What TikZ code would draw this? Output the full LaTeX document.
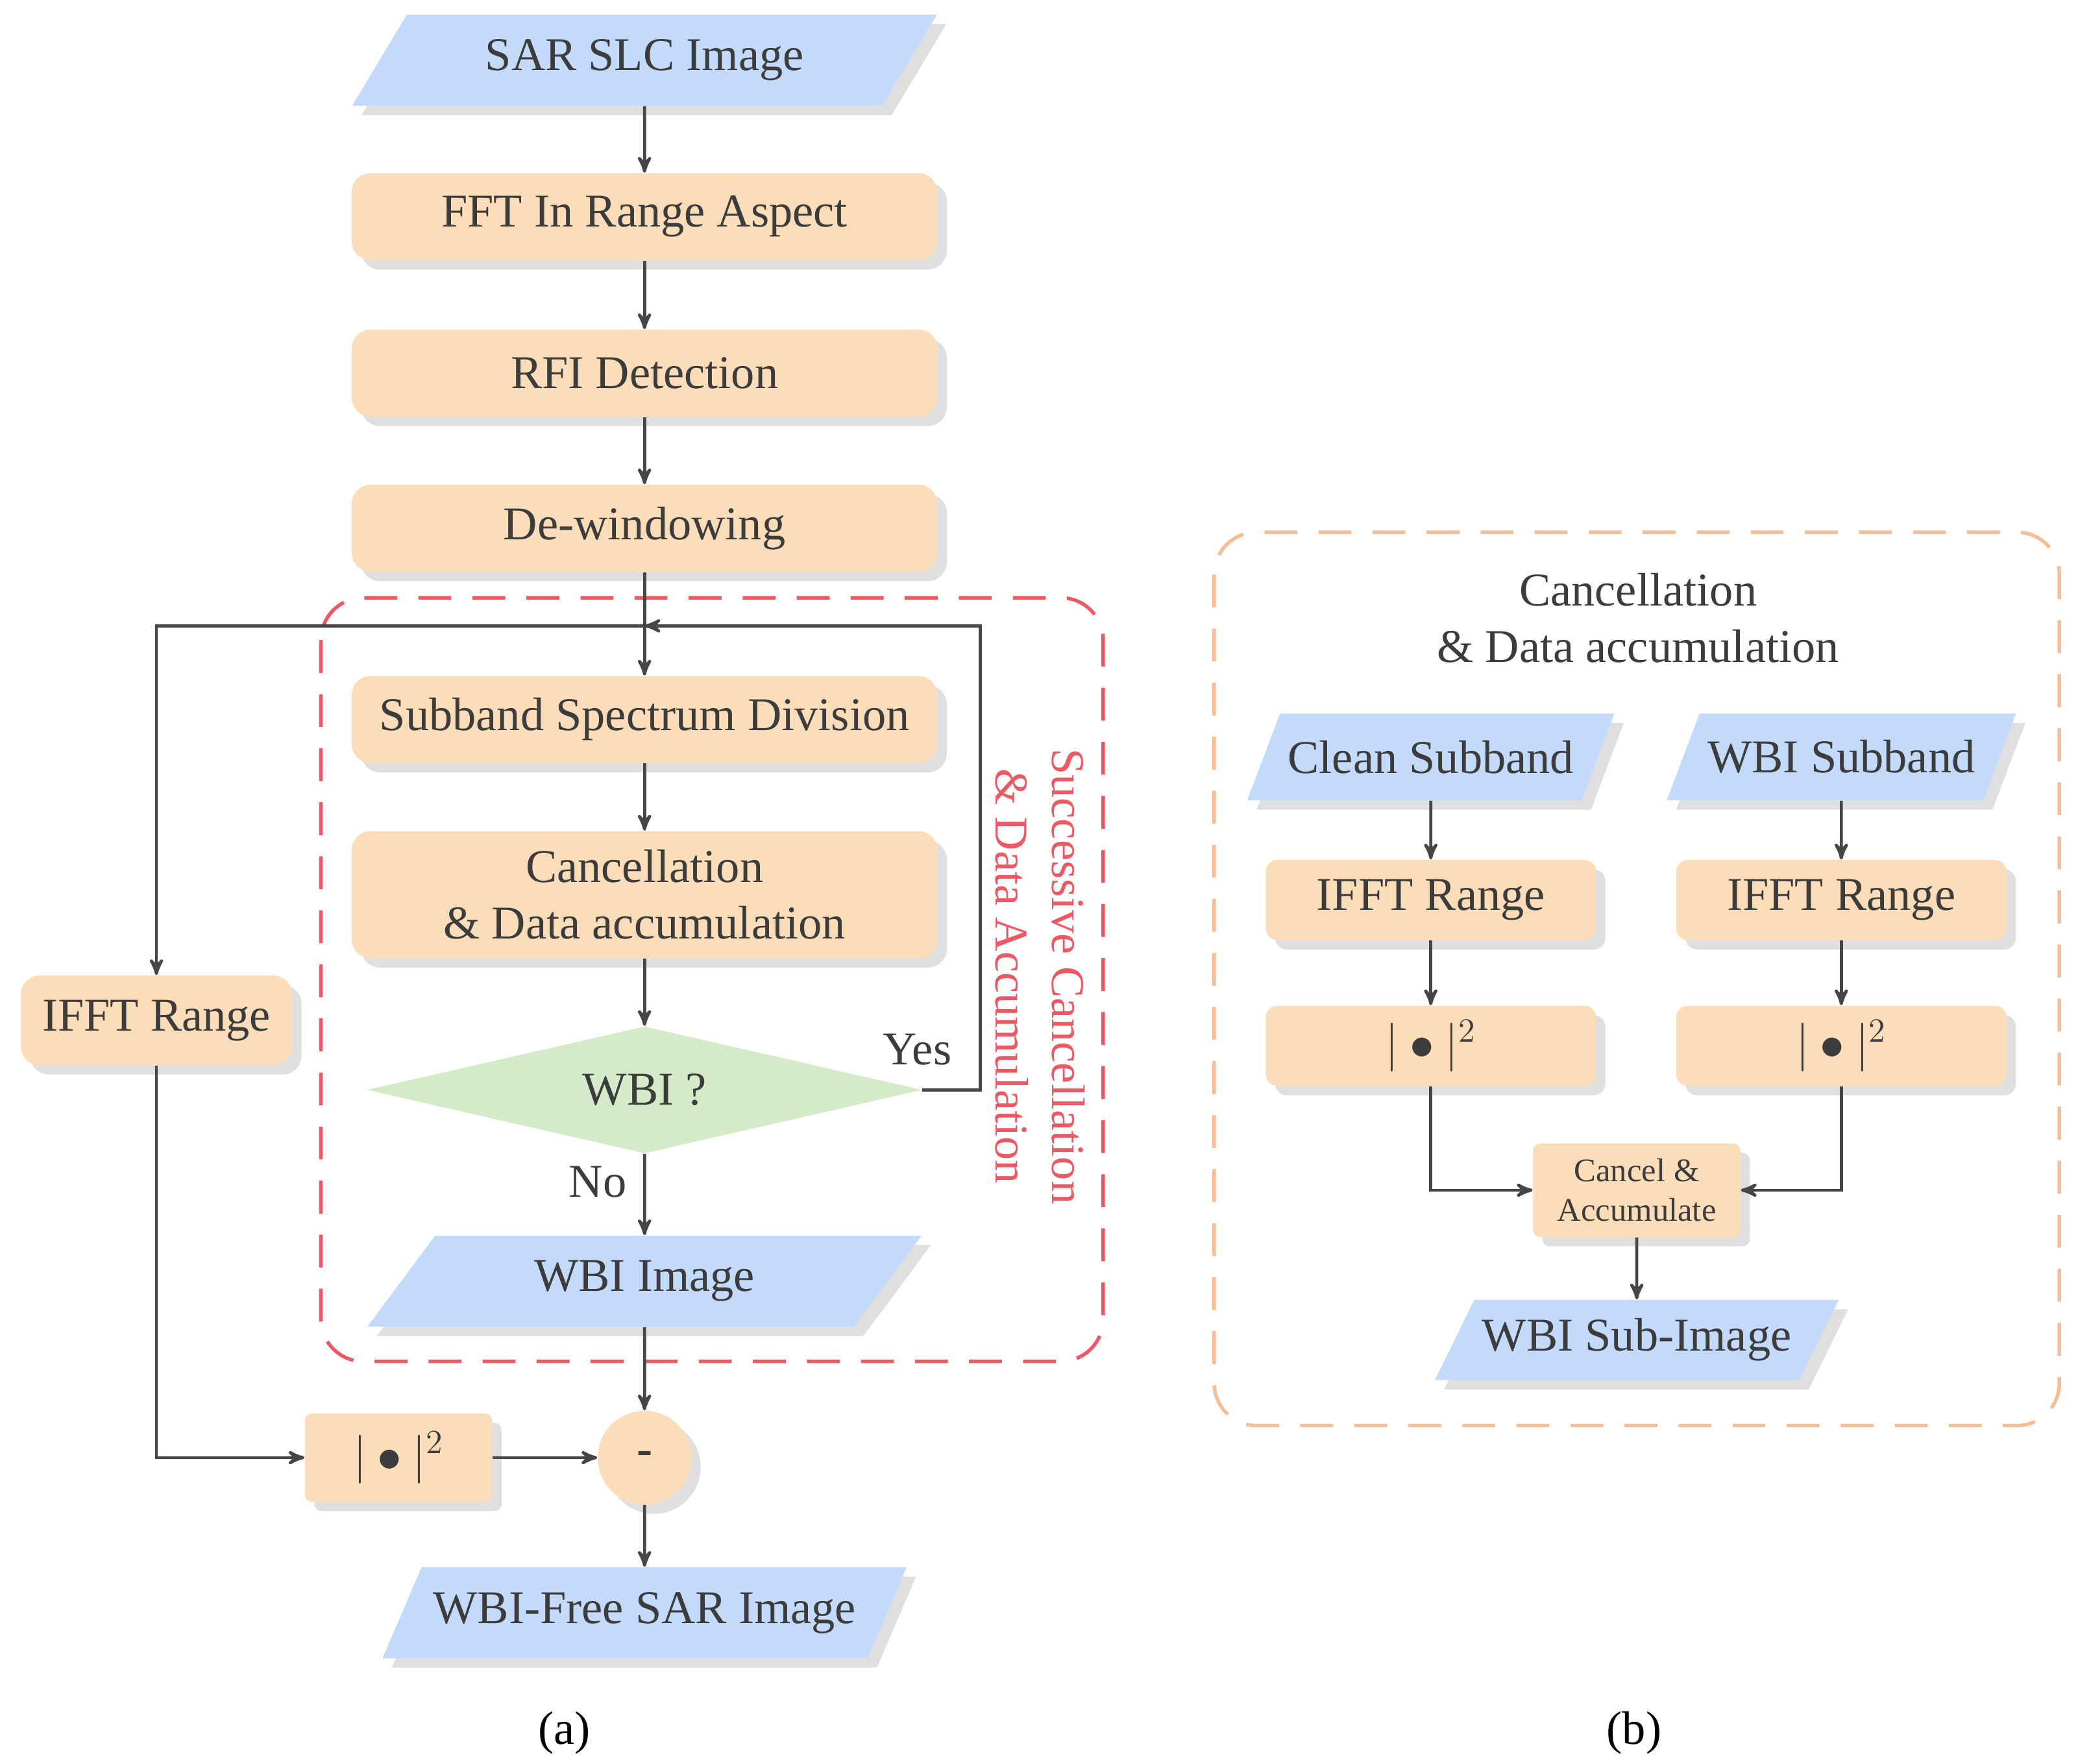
\documentclass[tikz,border=0pt]{standalone}
\usepackage{fontspec}
\setmainfont{Liberation Serif}
\usetikzlibrary{positioning,calc,arrows,shapes.geometric,shadows}
\definecolor{peach}{RGB}{252,221,186}
\definecolor{skyb}{RGB}{196,218,250}
\definecolor{leaf}{RGB}{212,234,200}
\definecolor{linec}{RGB}{70,70,70}
\definecolor{txt}{RGB}{60,60,60}
\definecolor{redd}{RGB}{235,90,100}
\definecolor{orng}{RGB}{246,190,150}
\tikzstyle{proc} = [rectangle, rounded corners=8pt, fill=peach, text=txt, align=center, drop shadow={opacity=0.25,shadow xshift=4pt,shadow yshift=-4pt}]
\tikzstyle{io} = [trapezium, trapezium left angle=56, trapezium right angle=124, trapezium stretches=true, fill=skyb, text=txt, drop shadow={opacity=0.25,shadow xshift=4pt,shadow yshift=-4pt}]
\tikzstyle{dec} = [diamond, aspect=4.4, fill=leaf, text=txt, inner sep=1pt]
\tikzstyle{to} = [->,>=stealth',semithick,draw=linec,line width=1.3pt]
\tikzstyle{lbl} = [text=txt]
\begin{document}
\begin{tikzpicture}[x=0.2mm,y=-0.2mm,font=\fontsize{20}{24}\selectfont]
\useasboundingbox (0,0) rectangle (1554,1319);
% (a)
\node (sar) [io,minimum width=8.76cm,minimum height=1.36cm] at (482,45) {SAR SLC Image};
\node (fft) [proc,minimum width=8.76cm,minimum height=1.3cm] at (482,162) {FFT In Range Aspect};
\node (rfi) [proc,minimum width=8.76cm,minimum height=1.3cm] at (482,279) {RFI Detection};
\node (dew) [proc,minimum width=8.76cm,minimum height=1.3cm] at (482,395) {De-windowing};
\draw[redd,dashed,line width=1.5pt,dash pattern=on 14pt off 9pt,rounded corners=18pt] (240,447) rectangle (825,1018);
\node (sub) [proc,minimum width=8.76cm,minimum height=1.3cm] at (482,538) {Subband Spectrum Division};
\node (can) [proc,minimum width=8.76cm,minimum height=1.9cm] at (482,669) {Cancellation\\ \& Data accumulation};
\node (wbi) [dec,minimum width=8.3cm,minimum height=1.9cm] at (482,815) {WBI ?};
\node (img) [io,minimum width=8.3cm,minimum height=1.36cm] at (482,958) {WBI Image};
\node (ifft) [proc,minimum width=4.06cm,minimum height=1.34cm] at (117,763) {IFFT Range};
\node (abs) [proc,rounded corners=3pt,minimum width=2.8cm,minimum height=1.32cm] at (298,1090) {$|\bullet|^{2}$};
\node (minus) [circle,fill=peach,minimum size=1.4cm,text=txt,drop shadow={opacity=0.25,shadow xshift=4pt,shadow yshift=-4pt}] at (482,1090) {\textbf{-}};
\node (free) [io,minimum width=7.86cm,minimum height=1.36cm] at (482,1206) {WBI-Free SAR Image};
\coordinate (loop) at (482,468);
\coordinate (yes) at (733,815);
\node (yl) [lbl] at (686,785) {Yes};
\node (nl) [lbl] at (447,884) {No};
\node (rot) [text=redd,rotate=-90,align=center] at (778,730) {Successive Cancellation\\ \& Data Accumulation};
\draw[to] (sar) -- (fft);
\draw[to] (fft) -- (rfi);
\draw[to] (rfi) -- (dew);
\draw[to] (dew) -- (sub);
\draw[to] (sub) -- (can);
\draw[to] (can) -- (wbi);
\draw[to] (wbi) -- (img);
\draw[to] (wbi.east) -- (yes) |- (loop);
\draw[to] (loop) -| (ifft);
\draw[to] (ifft) |- (abs);
\draw[to] (abs) -- (minus);
\draw[to] (img) -- (minus);
\draw[to] (minus) -- (free);
\node (la) at (422,1296) {(a)};
% (b)
\draw[orng,line width=1.5pt,dash pattern=on 14pt off 9pt,rounded corners=18pt] (908,398) rectangle (1540,1066);
\node (tit) [lbl,align=center] at (1225,462) {Cancellation\\ \& Data accumulation};
\node (cln) [io,minimum width=4.9cm,minimum height=1.3cm] at (1070,566) {Clean Subband};
\node (wsb) [io,minimum width=4.98cm,minimum height=1.3cm] at (1377,566) {WBI Subband};
\node (if1) [proc,rounded corners=5pt,minimum width=4.94cm,minimum height=1.2cm] at (1070,673) {IFFT Range};
\node (if2) [proc,rounded corners=5pt,minimum width=4.94cm,minimum height=1.2cm] at (1377,673) {IFFT Range};
\node (ab1) [proc,rounded corners=5pt,minimum width=4.94cm,minimum height=1.2cm] at (1070,782) {$|\bullet|^{2}$};
\node (ab2) [proc,rounded corners=5pt,minimum width=4.94cm,minimum height=1.2cm] at (1377,782) {$|\bullet|^{2}$};
\node (acc) [proc,rounded corners=3pt,font=\fontsize{14}{17}\selectfont,minimum width=3.1cm,minimum height=1.4cm] at (1224,890) {Cancel \&\\Accumulate};
\node (wsi) [io,minimum width=5.34cm,minimum height=1.2cm] at (1224,1002) {WBI Sub-Image};
\draw[to] (cln) -- (if1);
\draw[to] (wsb) -- (if2);
\draw[to] (if1) -- (ab1);
\draw[to] (if2) -- (ab2);
\draw[to] (ab1) |- (acc);
\draw[to] (ab2) |- (acc);
\draw[to] (acc) -- (wsi);
\node (lb) at (1222,1296) {(b)};
\end{tikzpicture}
\end{document}
